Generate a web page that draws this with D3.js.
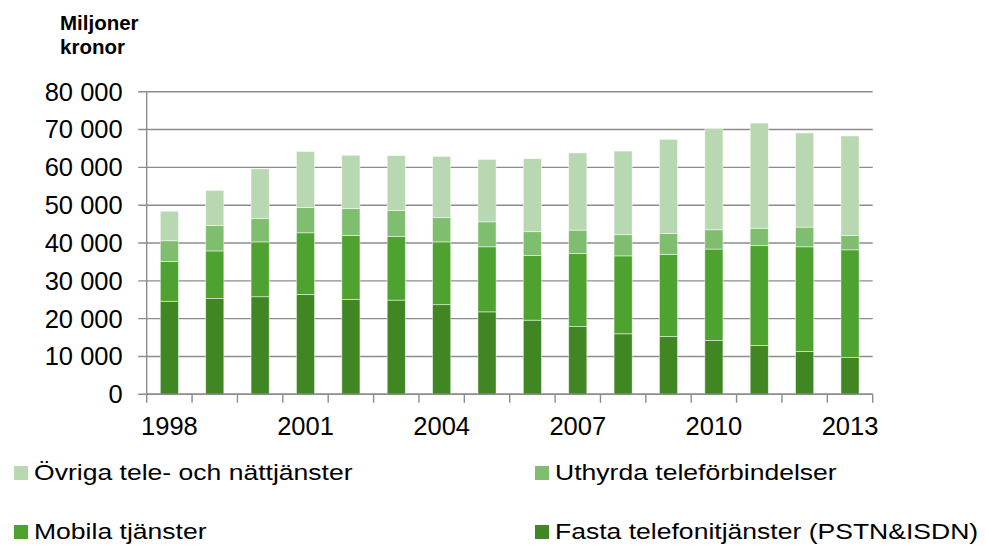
<!DOCTYPE html>
<html>
<head>
<meta charset="utf-8">
<script src="https://cdn.jsdelivr.net/npm/d3@7"></script>
<style>
	body { margin: 0; background: #fff; }
	text { font-family: "Liberation Sans", Arial, sans-serif; fill: #000; }
</style>
</head>
<body>
<script>
const w = 985,
	h = 548;

//values in miljoner kronor
const years = [1998, 1999, 2000, 2001, 2002, 2003, 2004, 2005, 2006, 2007, 2008, 2009, 2010, 2011, 2012, 2013];
const fasta = [24600, 25300, 25800, 26400, 25100, 24900, 23700, 21800, 19600, 17900, 16000, 15300, 14200, 12900, 11300, 9700];
const mobila = [10500, 12600, 14500, 16300, 16900, 16800, 16600, 17200, 17100, 19300, 20600, 21700, 24200, 26400, 27700, 28500];
const uthyrda = [5500, 6700, 6200, 6700, 7100, 6900, 6400, 6600, 6300, 6200, 5600, 5500, 5100, 4600, 5200, 3800];
const ovriga = [7800, 9300, 13100, 14800, 14100, 14500, 16200, 16500, 19300, 20400, 22100, 24900, 26800, 27800, 24900, 26300];
const yTicks = [0, 10000, 20000, 30000, 40000, 50000, 60000, 70000, 80000];
const xLabels = [1998, 2001, 2004, 2007, 2010, 2013];

const seriesKeys = ['fasta', 'mobila', 'uthyrda', 'ovriga'];
const seriesNames = {
	ovriga: 'Övriga tele- och nättjänster',
	uthyrda: 'Uthyrda teleförbindelser',
	mobila: 'Mobila tjänster',
	fasta: 'Fasta telefonitjänster (PSTN&ISDN)'
};
const colors = {fasta: '#408724', mobila: '#4ea22f', uthyrda: '#7fbe6e', ovriga: '#b8d8b1'};

//build rows for the stack layout
const rows = years.map((y, i) => ({
	year: y, fasta: fasta[i], mobila: mobila[i], uthyrda: uthyrda[i], ovriga: ovriga[i]
}));

const plotLeft = 146.7, plotRight = 872.7, plotTop = 91.7, plotBottom = 394.3;
const gridColor = '#8c8c8c';

const svg = d3.select('body')
	.append('svg')
	.attr('width', w)
	.attr('height', h);

const x = d3.scaleBand()
	.domain(years)
	.range([plotLeft, plotRight])
	.paddingInner(0.6)
	.paddingOuter(0.3);

const y = d3.scaleLinear()
	.domain([0, 80000])
	.range([plotBottom, plotTop]);

const fmt = d3.formatLocale({decimal: ',', thousands: ' ', grouping: [3], currency: ['', ' kr']}).format(',');

//gridlines + y ticks
svg.append('g')
	.selectAll('line')
	.data(yTicks)
	.enter()
	.append('line')
	.attr('x1', plotLeft - 8.5)
	.attr('x2', plotRight)
	.attr('y1', (d) => y(d))
	.attr('y2', (d) => y(d))
	.attr('stroke', gridColor)
	.attr('stroke-width', 1.4);

svg.append('g')
	.selectAll('text')
	.data(yTicks)
	.enter()
	.append('text')
	.attr('x', 122.7)
	.attr('y', (d) => y(d))
	.attr('dy', '0.35em')
	.attr('text-anchor', 'end')
	.style('font-size', '25.5px')
	.text((d) => fmt(d));

//stacked bars
const stack = d3.stack().keys(seriesKeys);
const layers = stack(rows);

svg.append('g')
	.selectAll('g')
	.data(layers)
	.enter()
	.append('g')
	.attr('fill', (d) => colors[d.key])
	.selectAll('rect')
	.data((d) => d)
	.enter()
	.append('rect')
	.attr('x', (d) => x(d.data.year))
	.attr('width', x.bandwidth())
	.attr('y', (d) => y(d[1]))
	.attr('height', (d) => y(d[0]) - y(d[1]))
	.attr('stroke', '#ffffff')
	.attr('stroke-opacity', 0.6)
	.attr('stroke-width', 0.8);

//axes lines
svg.append('line')
	.attr('x1', plotLeft).attr('x2', plotLeft)
	.attr('y1', plotTop).attr('y2', plotBottom)
	.attr('stroke', gridColor).attr('stroke-width', 1.4);

const step = x.step();
const xTickPos = years.map((yr) => x(yr) + x.bandwidth() / 2 - step / 2).concat([plotRight]);
svg.append('line')
	.attr('x1', plotLeft).attr('x2', plotRight)
	.attr('y1', plotBottom).attr('y2', plotBottom)
	.attr('stroke', gridColor).attr('stroke-width', 1.4);
svg.append('g')
	.selectAll('line')
	.data(xTickPos)
	.enter()
	.append('line')
	.attr('x1', (d) => d).attr('x2', (d) => d)
	.attr('y1', plotBottom).attr('y2', plotBottom + 8.5)
	.attr('stroke', gridColor).attr('stroke-width', 1.4);

svg.append('g')
	.selectAll('text')
	.data(xLabels)
	.enter()
	.append('text')
	.attr('x', (d) => x(d) + x.bandwidth() / 2)
	.attr('y', 435)
	.attr('text-anchor', 'middle')
	.style('font-size', '25.5px')
	.text((d) => d);

//unit label
svg.append('text')
	.attr('x', 60)
	.attr('y', 30)
	.style('font-size', '20.5px')
	.style('font-weight', 'bold')
	.text('Miljoner');
svg.append('text')
	.attr('x', 60)
	.attr('y', 54)
	.style('font-size', '20.5px')
	.style('font-weight', 'bold')
	.text('kronor');

//legend, 2 x 2
const legendItems = [
	{key: 'ovriga', x: 14, y: 480},
	{key: 'uthyrda', x: 535, y: 480},
	{key: 'mobila', x: 14, y: 539},
	{key: 'fasta', x: 535, y: 539}
];
const legend = svg.append('g')
	.selectAll('g')
	.data(legendItems)
	.enter()
	.append('g')
	.attr('transform', (d) => `translate(${d.x},${d.y})`);
legend.append('rect')
	.attr('x', 0)
	.attr('y', -14)
	.attr('width', 14)
	.attr('height', 14)
	.attr('fill', (d) => colors[d.key]);
legend.append('text')
	.attr('x', 20)
	.attr('y', 0)
	.attr('transform', 'translate(20,0) scale(1.235,1) translate(-20,0)')
	.style('font-size', '21.5px')
	.text((d) => seriesNames[d.key]);
</script>
</body>
</html>
